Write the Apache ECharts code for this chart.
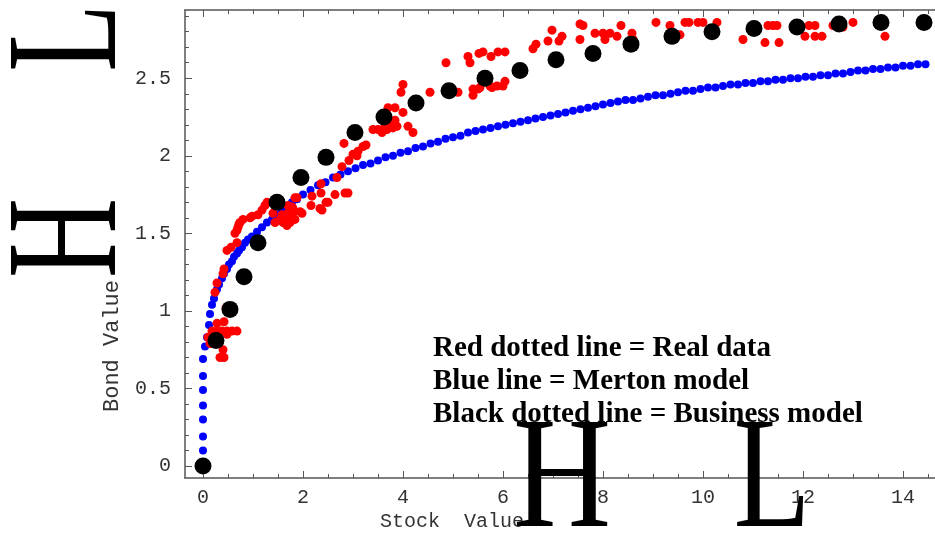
<!DOCTYPE html>
<html>
<head>
<meta charset="utf-8">
<script src="https://cdn.jsdelivr.net/npm/echarts@6/dist/echarts.min.js"></script>
<style>
  html, body { margin: 0; padding: 0; background: #fff; }
  #chart { width: 935px; height: 535px; }
</style>
</head>
<body>
<div id="chart"></div>
<script>
// tick positions
const xMajorTicks = [0, 2, 4, 6, 8, 10, 12, 14];
const xMinorTicks = [0.5, 1, 1.5, 2.5, 3, 3.5, 4.5, 5, 5.5, 6.5, 7, 7.5, 8.5, 9, 9.5,
  10.5, 11, 11.5, 12.5, 13, 13.5, 14.5];
const yMajorTicks = [0, 0.5, 1, 1.5, 2, 2.5];
const yMinorTicks = [0.1, 0.2, 0.3, 0.4, 0.6, 0.7, 0.8, 0.9, 1.1, 1.2, 1.3, 1.4,
  1.6, 1.7, 1.8, 1.9, 2.1, 2.2, 2.3, 2.4, 2.6, 2.7, 2.8, 2.9];

// Merton model (blue)
const blueMerton = [
  [0, 0], [0, 0.10], [0, 0.19], [0, 0.30], [0, 0.39], [0, 0.49], [0, 0.58], [0, 0.69],
  [0.04, 0.77], [0.08, 0.83], [0.12, 0.91], [0.14, 0.98], [0.18, 1.04], [0.22, 1.08],
  [0.28, 1.14], [0.32, 1.17], [0.38, 1.21], [0.42, 1.24], [0.48, 1.27], [0.52, 1.30],
  [0.58, 1.32], [0.62, 1.35], [0.68, 1.37], [0.72, 1.39], [0.78, 1.41], [0.84, 1.44],
  [0.90, 1.46], [0.98, 1.48], [1.08, 1.51], [1.18, 1.54], [1.28, 1.57], [1.38, 1.59],
  [1.48, 1.62], [1.58, 1.65], [1.68, 1.67], [1.78, 1.70], [1.88, 1.72],
  [2.0, 1.75], [2.15, 1.78], [2.3, 1.81], [2.45, 1.83], [2.6, 1.86], [2.75, 1.88],
  [2.9, 1.90], [3.05, 1.92], [3.2, 1.94], [3.35, 1.95], [3.5, 1.97], [3.65, 1.99],
  [3.8, 2.00], [3.95, 2.02], [4.1, 2.03], [4.25, 2.05], [4.4, 2.06], [4.55, 2.08],
  [4.7, 2.09], [4.85, 2.11], [5.0, 2.12], [5.15, 2.13], [5.3, 2.15], [5.45, 2.16],
  [5.6, 2.17], [5.75, 2.18], [5.9, 2.19], [6.05, 2.20], [6.2, 2.21], [6.35, 2.22],
  [6.5, 2.23], [6.65, 2.24], [6.8, 2.25], [6.95, 2.26], [7.1, 2.27], [7.25, 2.28],
  [7.4, 2.29], [7.55, 2.30], [7.7, 2.31], [7.85, 2.32], [8.0, 2.33], [8.15, 2.34],
  [8.3, 2.35], [8.45, 2.36], [8.6, 2.36], [8.75, 2.37], [8.9, 2.38], [9.05, 2.39],
  [9.2, 2.39], [9.35, 2.40], [9.5, 2.41], [9.65, 2.42], [9.8, 2.42], [9.95, 2.43],
  [10.1, 2.44], [10.25, 2.44], [10.4, 2.45], [10.55, 2.46], [10.7, 2.46], [10.85, 2.47],
  [11.0, 2.47], [11.15, 2.48], [11.3, 2.48], [11.45, 2.49], [11.6, 2.49], [11.75, 2.50],
  [11.9, 2.50], [12.05, 2.51], [12.2, 2.51], [12.35, 2.52], [12.5, 2.52], [12.65, 2.53],
  [12.8, 2.53], [12.95, 2.54], [13.1, 2.55], [13.25, 2.55], [13.4, 2.56], [13.55, 2.56],
  [13.7, 2.57], [13.85, 2.57], [14.0, 2.58], [14.15, 2.58], [14.3, 2.59], [14.45, 2.59]
];

// real data (red)
const redReal = [
  [0.34, 0.70], [0.42, 0.70], [0.40, 0.75], [0.14, 0.79], [0.10, 0.83], [0.20, 0.86],
  [0.18, 0.87], [0.28, 0.87], [0.38, 0.87], [0.48, 0.87], [0.58, 0.87], [0.68, 0.87],
  [0.28, 0.92], [0.42, 0.93], [0.48, 0.85], [0.50, 1.03], [0.46, 1.02],
  [0.24, 1.12], [0.28, 1.18], [0.40, 1.24], [0.42, 1.27], [0.48, 1.39], [0.56, 1.41],
  [0.68, 1.44], [0.64, 1.50], [0.68, 1.52], [0.70, 1.54], [0.74, 1.57], [0.72, 1.56],
  [0.80, 1.59], [0.94, 1.60], [0.98, 1.61], [1.10, 1.62], [1.18, 1.65], [1.24, 1.68],
  [1.28, 1.70], [1.40, 1.63], [1.44, 1.57], [1.54, 1.59], [1.58, 1.62], [1.64, 1.61],
  [1.60, 1.57], [1.68, 1.55], [1.68, 1.57], [1.74, 1.57], [1.74, 1.65], [1.80, 1.59],
  [1.80, 1.63], [1.84, 1.59], [1.70, 1.63], [1.70, 1.68], [1.80, 1.66], [1.78, 1.67],
  [1.84, 1.73], [1.88, 1.73], [1.94, 1.64], [1.98, 1.63],
  [2.16, 1.68], [2.18, 1.74], [2.36, 1.82], [2.36, 1.76], [2.34, 1.66],
  [2.38, 1.65], [2.46, 1.70], [2.50, 1.70], [2.64, 1.75], [2.84, 1.76], [2.90, 1.76],
  [2.68, 1.86], [2.78, 1.93], [2.92, 1.97], [3.00, 2.01], [3.08, 2.00], [3.10, 2.03],
  [3.20, 2.06], [3.26, 2.07], [2.82, 2.08],
  [3.40, 2.17], [3.50, 2.17], [3.58, 2.15], [3.68, 2.17], [3.80, 2.18], [3.88, 2.19],
  [3.64, 2.20], [3.80, 2.20], [3.70, 2.31], [3.84, 2.31], [3.84, 2.23], [4.00, 2.28],
  [4.10, 2.19], [4.20, 2.15], [3.96, 2.41], [4.00, 2.46], [4.54, 2.41], [4.86, 2.60],
  [5.10, 2.41], [5.30, 2.64], [5.34, 2.60], [5.40, 2.43], [5.40, 2.39], [5.50, 2.43],
  [5.52, 2.66], [5.60, 2.67], [5.76, 2.64], [5.54, 2.44], [5.74, 2.45], [5.78, 2.44],
  [5.88, 2.45], [6.00, 2.45], [6.04, 2.48], [5.90, 2.67], [6.04, 2.67],
  [6.60, 2.69], [6.66, 2.72], [6.90, 2.74], [7.12, 2.74], [7.18, 2.77], [6.98, 2.81],
  [7.54, 2.85], [7.54, 2.75], [7.60, 2.84], [7.84, 2.79], [8.00, 2.79], [8.14, 2.79],
  [8.36, 2.84], [8.04, 2.75], [8.28, 2.77], [8.58, 2.79], [8.60, 2.75], [9.06, 2.86],
  [9.34, 2.84], [9.54, 2.78], [9.64, 2.86], [9.72, 2.86], [9.90, 2.86], [10.00, 2.86],
  [10.28, 2.86], [10.80, 2.75], [11.24, 2.73], [11.30, 2.84], [11.40, 2.84], [11.48, 2.84],
  [11.52, 2.73], [12.04, 2.77], [12.24, 2.77], [12.38, 2.77], [12.12, 2.84], [12.24, 2.84],
  [12.60, 2.84], [12.80, 2.83], [13.00, 2.86], [13.64, 2.77]
];

// business model (black)
const blackBusiness = [
  [0, 0], [0.26, 0.81], [0.54, 1.01], [0.82, 1.22], [1.10, 1.44], [1.48, 1.70],
  [1.96, 1.86], [2.46, 1.99], [3.04, 2.15], [3.62, 2.25], [4.26, 2.34], [4.92, 2.42],
  [5.64, 2.50], [6.34, 2.55], [7.06, 2.62], [7.80, 2.66], [8.56, 2.72], [9.38, 2.77],
  [10.18, 2.80], [11.02, 2.82], [11.88, 2.83], [12.72, 2.85], [13.56, 2.86], [14.42, 2.86]
];

const noteLines = [
  'Red dotted line = Real data',
  'Blue line = Merton model',
  'Black dotted line = Business model'
];

const axisColor = '#555';
const monoFont = '"Liberation Mono", "DejaVu Sans Mono", monospace';

function xAxisOf(pos, ticks, len, withLine, withLabel) {
  return {
    type: 'value', position: pos, min: -0.36, max: 14.64,
    axisLine: { show: withLine, onZero: false, lineStyle: { color: axisColor, width: 1.5 } },
    axisTick: { show: true, inside: true, length: len, customValues: ticks,
      lineStyle: { color: axisColor, width: 1 } },
    axisLabel: withLabel
      ? { show: true, customValues: ticks, margin: 10, color: '#333', fontFamily: monoFont, fontSize: 20 }
      : { show: false },
    splitLine: { show: false }
  };
}

function yAxisOf(ticks, len, withLine, withLabel) {
  return {
    type: 'value', position: 'left', min: -0.077, max: 2.94,
    axisLine: { show: withLine, onZero: false, lineStyle: { color: axisColor, width: 1.5 } },
    axisTick: { show: true, inside: true, length: len, customValues: ticks,
      lineStyle: { color: axisColor, width: 1 } },
    axisLabel: withLabel
      ? { show: true, customValues: ticks, margin: 14, color: '#333', fontFamily: monoFont, fontSize: 20 }
      : { show: false },
    splitLine: { show: false }
  };
}

function bigLetter(ch, x, y, rot, sx) {
  return {
    type: 'text', x: x, y: y, rotation: rot, scaleX: sx, scaleY: 1, silent: true, z: 10,
    style: { text: ch, font: '158px "Liberation Serif", "Times New Roman", serif',
      fill: '#000', align: 'center', verticalAlign: 'middle' }
  };
}

const graphics = [];
noteLines.forEach((t, i) => {
  graphics.push({
    type: 'text', x: 433, y: 349 + i * 33, silent: true,
    style: { text: t, font: 'bold 29px "Liberation Serif", "Times New Roman", serif',
      fill: '#000', align: 'left', verticalAlign: 'middle' }
  });
});
graphics.push(
  bigLetter('L', 73, 38, Math.PI / 2, 0.7),
  bigLetter('H', 73, 238, Math.PI / 2, 0.7),
  bigLetter('H', 562, 484, 0, 0.86),
  bigLetter('L', 772, 484, 0, 0.8),
  { type: 'text', x: 112, y: 346, rotation: Math.PI / 2, silent: true,
    style: { text: 'Bond Value', font: '22px ' + monoFont, fill: '#333', align: 'center', verticalAlign: 'middle' } },
  { type: 'text', x: 452, y: 522, silent: true,
    style: { text: 'Stock  Value', font: '20px ' + monoFont, fill: '#333', align: 'center', verticalAlign: 'middle' } }
);

const myChart = echarts.init(document.getElementById('chart'));
myChart.setOption({
  animation: false,
  grid: { left: 185, top: 10, right: 0, bottom: 57 },
  xAxis: [
    xAxisOf('bottom', xMajorTicks, 7, true, true),
    xAxisOf('bottom', xMinorTicks, 4, false, false),
    xAxisOf('top', xMajorTicks, 7, true, false),
    xAxisOf('top', xMinorTicks, 4, false, false)
  ],
  yAxis: [
    yAxisOf(yMajorTicks, 7, true, true),
    yAxisOf(yMinorTicks, 4, false, false)
  ],
  series: [
    { name: 'Merton', type: 'scatter', data: blueMerton, symbolSize: 8, silent: true,
      itemStyle: { color: '#0000ff', opacity: 1 } },
    { name: 'Real', type: 'scatter', data: redReal, symbolSize: 9, silent: true,
      itemStyle: { color: '#ff0000', opacity: 1 } },
    { name: 'Business', type: 'scatter', data: blackBusiness, symbolSize: 17, silent: true,
      itemStyle: { color: '#000000', opacity: 1 } }
  ],
  graphic: graphics
});
</script>
</body>
</html>
